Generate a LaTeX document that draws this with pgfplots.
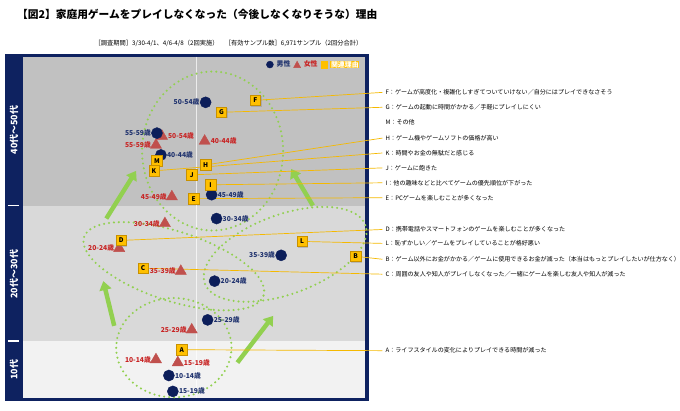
\documentclass[border=0pt]{standalone}
\usepackage{pgfplots}
\pgfplotsset{compat=1.18}
\usepackage{fontspec}
\setmainfont{Noto Sans CJK JP}
\usetikzlibrary{arrows.meta,shadows}
\definecolor{navy}{RGB}{14,34,96}
\definecolor{mencol}{RGB}{12,30,90}
\definecolor{womcol}{RGB}{192,80,77}
\definecolor{womtext}{RGB}{200,35,35}
\definecolor{mentext}{RGB}{31,50,110}
\definecolor{grn}{RGB}{146,208,80}
\definecolor{boxy}{RGB}{255,192,0}
\definecolor{boxedge}{RGB}{200,145,0}
\definecolor{lead}{RGB}{245,185,0}
\definecolor{bandA}{RGB}{193,193,193}
\definecolor{bandB}{RGB}{217,217,217}
\definecolor{bandC}{RGB}{242,242,242}
\begin{document}
\begin{tikzpicture}
\begin{axis}[
  scale only axis, width=680pt, height=413pt,
  xmin=0, xmax=680, ymin=0, ymax=413, y dir=reverse,
  hide axis, clip=false,
  legend style={at={(axis cs:364,65)}, anchor=east, draw=none, fill=none,
    legend columns=-1, inner sep=0pt, font=\fontsize{7}{8}\selectfont\bfseries,
    /tikz/every even column/.append style={column sep=1pt},
    /tikz/every odd column/.append style={column sep=1pt}},
]
% page background
\fill[white] (axis cs:0,0) rectangle (axis cs:680,413);
% legend entries
\addlegendimage{legend image code/.code={\fill[mencol] (3.5pt,0pt) circle (3.5pt);}}
\addlegendentry{\textcolor{mentext}{男性}}
\addlegendimage{legend image code/.code={\fill[womcol] (0pt,-3pt) -- (7pt,-3pt) -- (3.5pt,3.5pt) -- cycle;}}
\addlegendentry{\textcolor{womtext}{女性}}
\addlegendimage{legend image code/.code={\fill[boxy] (0pt,-3.2pt) rectangle (6.4pt,3.2pt);}}
\addlegendentry{{\setlength{\fboxsep}{0.6pt}\colorbox{boxy}{\textcolor{white}{関連理由}}}}
% frame and bands
\fill[navy] (axis cs:5,54) rectangle (axis cs:371,404);
\fill[bandA] (axis cs:23,57) rectangle (axis cs:367,207);
\fill[bandB] (axis cs:23,207) rectangle (axis cs:367,343);
\fill[bandC] (axis cs:23,343) rectangle (axis cs:367,401);
\draw[white, line width=1.6pt] (axis cs:8,207) -- (axis cs:19,207);
\draw[white, line width=1.6pt] (axis cs:8,343) -- (axis cs:19,343);
\draw[white, opacity=0.7, line width=0.6pt] (axis cs:198,57) -- (axis cs:198,401);
\node[rotate=90, text=white, font=\fontsize{9}{9}\selectfont\bfseries] at (axis cs:14,131) {40代～50代};
\node[rotate=90, text=white, font=\fontsize{9}{9}\selectfont\bfseries] at (axis cs:14,276) {20代～30代};
\node[rotate=90, text=white, font=\fontsize{9}{9}\selectfont\bfseries] at (axis cs:14,372) {10代};
% dotted ellipses
\begin{scope}[grn, line width=2.3pt, line cap=round, dash pattern=on 0pt off 5pt]
\draw (axis cs:214,152) ellipse [x radius=71pt, y radius=80pt];
\draw[rotate around={-18:(axis cs:175,268)}] (axis cs:175,268) ellipse [x radius=95pt, y radius=35pt];
\draw[rotate around={20:(axis cs:287,256)}] (axis cs:287,256) ellipse [x radius=86pt, y radius=40pt];
\draw (axis cs:175,350) ellipse [x radius=58pt, y radius=50pt];
\end{scope}
% arrows
\addplot[grn, line width=4.5pt, -{Triangle[length=9pt,width=12pt]}] coordinates {(107,220) (137,172)};
\addplot[grn, line width=4.5pt, -{Triangle[length=9pt,width=12pt]}] coordinates {(315,207) (293,170)};
\addplot[grn, line width=4.5pt, -{Triangle[length=9pt,width=12pt]}] coordinates {(115,328) (104,283)};
\addplot[grn, line width=4.5pt, -{Triangle[length=9pt,width=12pt]}] coordinates {(239,365) (275,318)};
% leader lines
\pgfplotsset{leader/.style={lead, line width=0.7pt, forget plot}}
\addplot[leader] coordinates {(257,101) (385,93)};
\addplot[leader] coordinates {(223,113) (385,108)};
\addplot[leader] coordinates {(207,166) (385,139)};
\addplot[leader] coordinates {(155,172) (385,154)};
\addplot[leader] coordinates {(193,176) (385,169)};
\addplot[leader] coordinates {(212,186) (385,184)};
\addplot[leader] coordinates {(195,200) (385,199)};
\addplot[leader] coordinates {(122,242) (385,231)};
\addplot[leader] coordinates {(304,243) (385,245)};
\addplot[leader] coordinates {(358,258) (385,261)};
\addplot[leader] coordinates {(144,270) (385,276)};
\addplot[leader] coordinates {(183,352) (385,353)};
% women markers
\addplot[only marks, mark=triangle*, mark size=6.5pt, color=womcol, forget plot] coordinates {
 (163,137) (157,146) (206,142) (173,198) (166,225) (120,250) (182,273) (193,332) (157,362) (179,365)};
% men markers
\addplot[only marks, mark=*, mark size=5.6pt, color=mencol, forget plot] coordinates {
 (207,103) (158,134) (162,156) (213,196) (218,220) (283,257) (216,283) (209,322) (170,378) (174,394)};
% labels
\pgfplotsset{ptlab/.style={draw=none, mark=none, forget plot, point meta=explicit symbolic, nodes near coords,
  every node near coord/.append style={font=\fontsize{6.8}{7}\selectfont\bfseries, inner sep=0pt}}}
\addplot[ptlab, every node near coord/.append style={anchor=east, xshift=-6pt, text=mentext}] coordinates {
 (207,103) [50-54歳] (158,134) [55-59歳] (283,257) [35-39歳]};
\addplot[ptlab, every node near coord/.append style={anchor=west, xshift=6pt, text=mentext}] coordinates {
 (162,156) [40-44歳] (213,196) [45-49歳] (218,220) [30-34歳] (216,283) [20-24歳] (209,322) [25-29歳] (170,378) [10-14歳] (174,394) [15-19歳]};
\addplot[ptlab, every node near coord/.append style={anchor=east, xshift=-5pt, text=womtext}] coordinates {
 (157,146) [55-59歳] (173,198) [45-49歳] (166,225) [30-34歳] (120,250) [20-24歳] (182,273) [35-39歳] (193,332) [25-29歳] (157,362) [10-14歳]};
\addplot[ptlab, every node near coord/.append style={anchor=west, xshift=6pt, text=womtext}] coordinates {
 (163,137) [50-54歳] (206,142) [40-44歳] (179,365) [15-19歳]};
% reason boxes
\addplot[draw=none, mark=none, forget plot, point meta=explicit symbolic, nodes near coords,
  every node near coord/.append style={anchor=center, fill=boxy, draw=boxedge, line width=0.5pt, text=black,
   font=\fontsize{6.5}{6.5}\selectfont\bfseries, minimum size=10.5pt, inner sep=0pt,
   drop shadow={shadow xshift=1pt, shadow yshift=-1pt, opacity=0.35}}] coordinates {
 (257,101) [F] (223,113) [G] (158,162) [M] (207,166) [H] (155,172) [K] (193,176) [J] (212,186) [I]
 (195,200) [E] (122,242) [D] (304,243) [L] (358,258) [B] (144,270) [C] (183,352) [A]};
% right-hand reason labels
\begin{scope}[every node/.style={anchor=west, font=\fontsize{6.1}{6.1}\selectfont, inner sep=0pt}]
\node at (axis cs:388,93) {F：ゲームが高度化・複雑化しすぎてついていけない／自分にはプレイできなさそう};
\node at (axis cs:388,108) {G：ゲームの起動に時間がかかる／手軽にプレイしにくい};
\node at (axis cs:388,123) {M：その他};
\node at (axis cs:388,139) {H：ゲーム機やゲームソフトの価格が高い};
\node at (axis cs:388,154) {K：時間やお金の無駄だと感じる};
\node at (axis cs:388,169) {J：ゲームに飽きた};
\node at (axis cs:388,184) {I：他の趣味などと比べてゲームの優先順位が下がった};
\node at (axis cs:388,199) {E：PCゲームを楽しむことが多くなった};
\node at (axis cs:388,231) {D：携帯電話やスマートフォンのゲームを楽しむことが多くなった};
\node at (axis cs:388,245) {L：恥ずかしい／ゲームをプレイしていることが格好悪い};
\node at (axis cs:388,261) {B：ゲーム以外にお金がかかる／ゲームに使用できるお金が減った（本当はもっとプレイしたいが仕方なく）};
\node at (axis cs:388,276) {C：周囲の友人や知人がプレイしなくなった／一緒にゲームを楽しむ友人や知人が減った};
\node at (axis cs:388,353) {A：ライフスタイルの変化によりプレイできる時間が減った};
\end{scope}
% titles
\node[anchor=west, inner sep=0pt, font=\fontsize{10.8}{11}\selectfont\bfseries] at (axis cs:17,14)
 {【図2】家庭用ゲームをプレイしなくなった（今後しなくなりそうな）理由};
\node[anchor=west, inner sep=0pt, font=\fontsize{6.3}{6.5}\selectfont] at (axis cs:95,44)
 {［調査期間］3/30-4/1、4/6-4/8（2回実施）　［有効サンプル数］6,971サンプル（2回分合計）};
\end{axis}
\end{tikzpicture}
\end{document}
